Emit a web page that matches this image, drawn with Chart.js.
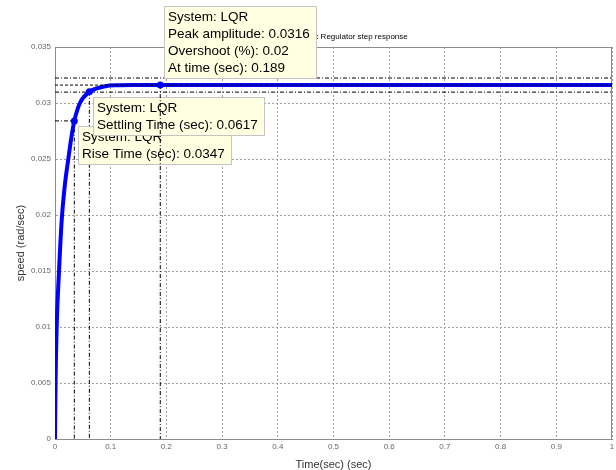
<!DOCTYPE html>
<html>
<head>
<meta charset="utf-8">
<title>LQR step response</title>
<script src="https://cdn.jsdelivr.net/npm/chart.js@4.4.1/dist/chart.umd.min.js"></script>
<style>
  html, body { margin: 0; padding: 0; background: #fff; }
</style>
</head>
<body>
<canvas id="stepChart" width="616" height="470"></canvas>
<script>
// Step response of the LQR loop
const timeSec = [0, 0.001, 0.003, 0.0072, 0.012, 0.0175, 0.0239, 0.029, 0.0347, 0.0448, 0.0617, 0.075, 0.09, 0.11, 0.14, 0.189, 0.3, 0.5, 0.7, 1.0];
const speed   = [0, 0.005, 0.010, 0.015, 0.0195, 0.0226, 0.025, 0.0268, 0.0284, 0.0300, 0.0310, 0.0313, 0.0315, 0.03158, 0.0316, 0.0316, 0.0316, 0.0316, 0.0316, 0.0316];

// data tips: rise time, settling time, peak
const tipTimes  = [0.0347, 0.0617, 0.189];
const tipValues = [0.0284, 0.0310, 0.0316];
const tipText = [
    ['System: LQR', 'Rise Time (sec): 0.0347'],
    ['System: LQR', 'Settling Time (sec): 0.0617'],
    ['System: LQR', 'Peak amplitude: 0.0316', 'Overshoot (%): 0.02', 'At time (sec): 0.189']
];
const finalValue = 0.0316;
const settleBand = [0.03223, 0.03097];

const xTicks = [0, 0.1, 0.2, 0.3, 0.4, 0.5, 0.6, 0.7, 0.8, 0.9, 1];
const yTicks = [0, 0.005, 0.01, 0.015, 0.02, 0.025, 0.03, 0.035];

const titleText = 'Linear Quadratic Regulator step response';

Chart.defaults.font.family = '"Liberation Sans", Arial, sans-serif';

const dashDot = [4, 2, 1, 2];

function refLine(points, dash, order) {
    return {
        data: points,
        borderColor: '#000',
        borderWidth: 1,
        borderDash: dash,
        pointRadius: 0,
        fill: false,
        order: order
    };
}

// yellow MATLAB style data tip box next to a point
function drawTip(chart, i, above) {
    const ctx = chart.ctx;
    const px = chart.scales.x.getPixelForValue(tipTimes[i]);
    const py = chart.scales.y.getPixelForValue(tipValues[i]);
    const lines = tipText[i];
    ctx.save();
    ctx.font = '13.5px "Liberation Sans", Arial, sans-serif';
    let w = 0;
    lines.forEach(function(s) { w = Math.max(w, ctx.measureText(s).width); });
    w = Math.round(w + 11);
    const h = lines.length * 17 + 5;
    const left = Math.round(px + 3.5);
    const top = Math.round(above ? py - 6 - h : py + 5);
    ctx.fillStyle = '#ffffe1';
    ctx.fillRect(left, top, w, h);
    ctx.strokeStyle = '#c4c4c4';
    ctx.lineWidth = 1;
    ctx.strokeRect(left + 0.5, top + 0.5, w - 1, h - 1);
    ctx.fillStyle = '#000';
    ctx.textBaseline = 'middle';
    ctx.textAlign = 'left';
    lines.forEach(function(s, k) { ctx.fillText(s, left + 4, top + 11 + k * 17); });
    ctx.restore();
}

const decorations = {
    id: 'decorations',
    beforeDatasetsDraw(chart) {
        const a = chart.chartArea;
        const ctx = chart.ctx;
        ctx.save();
        ctx.strokeStyle = '#8c8c8c';
        ctx.lineWidth = 1;
        ctx.strokeRect(Math.round(a.left) + 0.5, Math.round(a.top) + 0.5,
                       Math.round(a.right - a.left) - 1, Math.round(a.bottom - a.top));
        ctx.restore();
    },
    afterDatasetDraw(chart, args) {
        // tips for rise and settling sit above the curve but under the peak lines
        if (args.index === 0) {
            drawTip(chart, 0, false);
            drawTip(chart, 1, false);
        }
    },
    afterDatasetsDraw(chart) {
        const a = chart.chartArea;
        const ctx = chart.ctx;
        ctx.save();
        ctx.font = '8px "Liberation Sans", Arial, sans-serif';
        ctx.fillStyle = '#000';
        ctx.textAlign = 'center';
        ctx.textBaseline = 'middle';
        ctx.fillText(titleText, (a.left + a.right) / 2, a.top - 10);
        ctx.restore();
        drawTip(chart, 2, true);
    }
};

const ctx = document.getElementById('stepChart').getContext('2d');
const stepChart = new Chart(ctx, {
    type: 'line',
    data: {
        datasets: [
            {
                label: 'LQR',
                data: timeSec.map(function(t, i) { return { x: t, y: speed[i] }; }),
                borderColor: '#0000ff',
                borderWidth: 4,
                pointRadius: 0,
                cubicInterpolationMode: 'monotone',
                fill: false,
                order: 3
            },
            refLine([{ x: 0, y: tipValues[0] }, { x: tipTimes[0], y: tipValues[0] }, { x: tipTimes[0], y: 0 }], dashDot, 4),
            refLine([{ x: tipTimes[1], y: tipValues[1] }, { x: tipTimes[1], y: 0 }], dashDot, 4),
            refLine([{ x: 0, y: settleBand[0] }, { x: 1, y: settleBand[0] }], dashDot, 4),
            refLine([{ x: 0, y: settleBand[1] }, { x: 1, y: settleBand[1] }], dashDot, 4),
            refLine([{ x: 0, y: finalValue }, { x: 1, y: finalValue }], [3, 2], 2),
            refLine([{ x: tipTimes[2], y: tipValues[2] }, { x: tipTimes[2], y: 0 }], dashDot, 2),
            {
                label: 'tips',
                data: tipTimes.map(function(t, i) { return { x: t, y: tipValues[i] }; }),
                showLine: false,
                pointRadius: 3.5,
                pointBackgroundColor: '#0000ff',
                pointBorderColor: '#0000ff',
                pointBorderWidth: 0,
                order: 1
            }
        ]
    },
    options: {
        responsive: false,
        animation: false,
        devicePixelRatio: 1,
        layout: { padding: { top: 47, right: 3, left: 0, bottom: 0 } },
        plugins: {
            legend: { display: false },
            title: { display: false },
            tooltip: { enabled: false }
        },
        scales: {
            x: {
                type: 'linear',
                min: 0,
                max: 1,
                afterBuildTicks: function(scale) { scale.ticks = xTicks.map(function(v) { return { value: v }; }); },
                afterFit: function(scale) {
                    scale.height = 31;
                    scale.paddingRight = 0;
                },
                ticks: {
                    color: '#666',
                    font: { size: 8 },
                    padding: 3,
                    maxRotation: 0,
                    autoSkip: false,
                    callback: function(v) { return String(v); }
                },
                grid: { color: '#a0a0a0', drawTicks: false },
                border: { color: '#8c8c8c', dash: [2, 2] },
                title: {
                    display: true,
                    text: 'Time(sec) (sec)',
                    color: '#333',
                    font: { size: 11, lineHeight: 1 },
                    padding: { top: 0, bottom: 0 }
                }
            },
            y: {
                type: 'linear',
                min: 0,
                max: 0.035,
                afterBuildTicks: function(scale) { scale.ticks = yTicks.map(function(v) { return { value: v }; }); },
                afterFit: function(scale) { scale.width = 55; },
                ticks: {
                    color: '#666',
                    font: { size: 8 },
                    padding: 4,
                    callback: function(v) { return String(v); }
                },
                grid: { color: '#a0a0a0', drawTicks: false },
                border: { color: '#8c8c8c', dash: [2, 2] },
                title: {
                    display: true,
                    text: 'speed (rad/sec)',
                    color: '#333',
                    font: { size: 11, lineHeight: 1 },
                    padding: { top: 15.5, bottom: 0 }
                }
            }
        }
    },
    plugins: [decorations]
});
</script>
</body>
</html>
